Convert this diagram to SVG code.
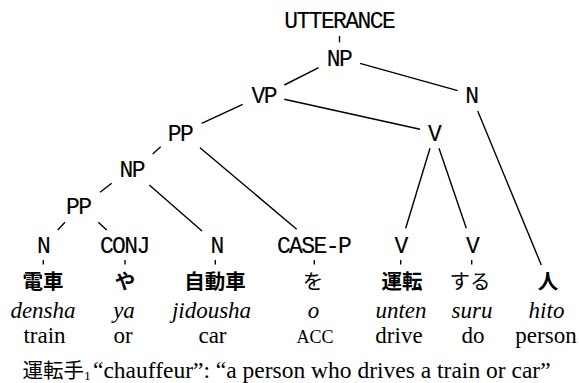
<svg xmlns="http://www.w3.org/2000/svg" width="579" height="383" viewBox="0 0 579 383">
<style>
.tt{font-family:"Liberation Mono",monospace;font-size:23px;letter-spacing:-1.6px;text-anchor:middle;fill:#000;stroke:#000;stroke-width:0.12}
.jp{font-family:"Noto Sans CJK JP",sans-serif;font-size:20.5px;text-anchor:middle;font-weight:700;fill:#000}
.jpn{font-weight:400}
.it{font-family:"Liberation Serif",serif;font-style:italic;font-size:23px;text-anchor:middle;fill:#000}
.rm{font-family:"Liberation Serif",serif;font-size:23px;text-anchor:middle;fill:#000}
.sc{font-size:18px}
.cap{font-family:"Liberation Serif",serif;font-size:23.5px;fill:#000}
#connectors line{stroke:#000;stroke-width:1.4;fill:none}
</style>
<rect width="579" height="383" fill="#fff"/>
<g id="connectors">
<line x1="339.5" y1="36" x2="339.5" y2="42.3"/>
<line x1="318.7" y1="67.7" x2="284.3" y2="85"/>
<line x1="360" y1="63.3" x2="457.7" y2="90.7"/>
<line x1="242.7" y1="104.3" x2="201.7" y2="123.3"/>
<line x1="284.3" y1="99.3" x2="420" y2="129.3"/>
<line x1="477.7" y1="111" x2="541.3" y2="265"/>
<line x1="160.7" y1="146.7" x2="152.7" y2="154"/>
<line x1="200" y1="147.7" x2="296.7" y2="229.3"/>
<line x1="430" y1="148.3" x2="405.7" y2="228.3"/>
<line x1="439" y1="148.3" x2="466.3" y2="228.3"/>
<line x1="111.7" y1="183.3" x2="100" y2="192.3"/>
<line x1="149.3" y1="185" x2="202" y2="231"/>
<line x1="65" y1="222.3" x2="57.7" y2="230"/>
<line x1="98.3" y1="222.3" x2="106.7" y2="230"/>
<line x1="43.3" y1="260" x2="43.3" y2="264.5"/>
<line x1="125" y1="260" x2="125" y2="264.5"/>
<line x1="215.3" y1="260" x2="215.3" y2="264.5"/>
<line x1="314.3" y1="260" x2="314.3" y2="264.5"/>
<line x1="400.7" y1="260" x2="400.7" y2="264.5"/>
<line x1="471.7" y1="260" x2="471.7" y2="264.5"/>
</g>
<g id="utterance"><text class="tt" x="339.2" y="28.3">UTTERANCE</text></g>
<g id="np-top"><text class="tt" x="339" y="65.7">NP</text></g>
<g id="vp"><text class="tt" x="263.7" y="102.5">VP</text></g>
<g id="n-top"><text class="tt" x="471.3" y="102.5">N</text></g>
<g id="pp-upper"><text class="tt" x="180" y="140.5">PP</text></g>
<g id="v-upper"><text class="tt" x="434" y="140.5">V</text></g>
<g id="np-lower"><text class="tt" x="131.7" y="176.9">NP</text></g>
<g id="pp-lower"><text class="tt" x="78.3" y="214">PP</text></g>
<g id="leaf-n1"><text class="tt" x="43" y="253">N</text></g>
<g id="leaf-conj"><text class="tt" x="124.3" y="253">CONJ</text></g>
<g id="leaf-n2"><text class="tt" x="216.7" y="253">N</text></g>
<g id="leaf-casep"><text class="tt" x="313.5" y="253">CASE-P</text></g>
<g id="leaf-v1"><text class="tt" x="400.5" y="253">V</text></g>
<g id="leaf-v2"><text class="tt" x="472" y="253">V</text></g>
<g id="word-densha"><text class="jp" x="43" y="289">電車</text><text class="it" x="43" y="318">densha</text><text class="rm" x="44.5" y="343">train</text></g>
<g id="word-ya"><text class="jp" x="125" y="289">や</text><text class="it" x="124" y="318">ya</text><text class="rm" x="123" y="343">or</text></g>
<g id="word-jidousha"><text class="jp" x="215" y="289">自動車</text><text class="it" x="211.5" y="318">jidousha</text><text class="rm" x="212.5" y="343">car</text></g>
<g id="word-o"><text class="jp jpn" x="313" y="289">を</text><text class="it" x="313.5" y="318">o</text><text class="rm sc" x="315" y="343">ACC</text></g>
<g id="word-unten"><text class="jp" x="402" y="289">運転</text><text class="it" x="401" y="318">unten</text><text class="rm" x="399" y="343">drive</text></g>
<g id="word-suru"><text class="jp jpn" x="470" y="289">する</text><text class="it" x="472" y="318">suru</text><text class="rm" x="473" y="343">do</text></g>
<g id="word-hito"><text class="jp" x="548" y="289">人</text><text class="it" x="546.5" y="318">hito</text><text class="rm" x="546" y="343">person</text></g>
<g id="caption"><text class="cap" y="378"><tspan x="22.5" font-family="'Noto Sans CJK JP',sans-serif" font-size="20.5px" font-weight="400">運転手</tspan><tspan font-size="13.5px" dy="2">1</tspan><tspan x="93" dy="-2">“chauffeur”: “a person who drives a train or car”</tspan></text></g>
</svg>
